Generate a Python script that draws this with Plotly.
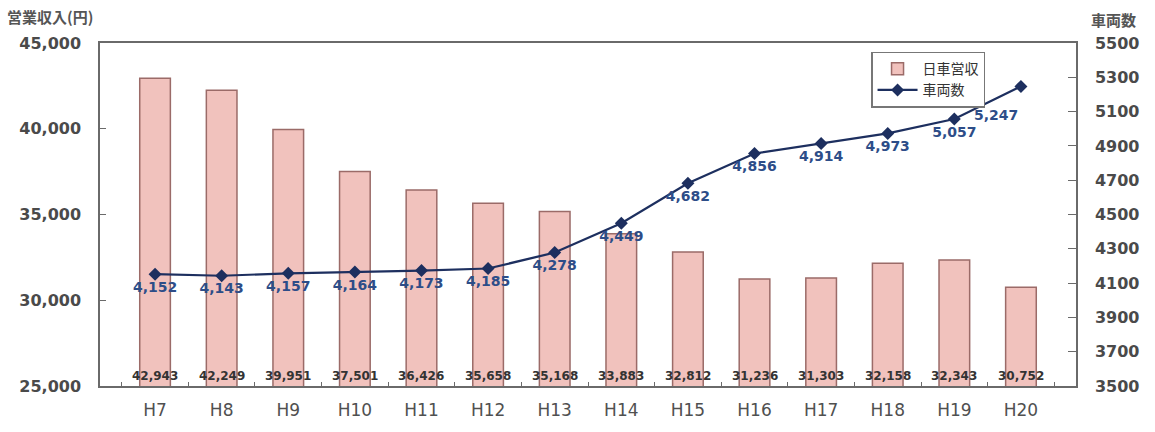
import plotly.graph_objects as go

categories = ["H7", "H8", "H9", "H10", "H11", "H12", "H13", "H14", "H15", "H16", "H17", "H18", "H19", "H20"]
revenue = [42943, 42249, 39951, 37501, 36426, 35658, 35168, 33883, 32812, 31236, 31303, 32158, 32343, 30752]
vehicles = [4152, 4143, 4157, 4164, 4173, 4185, 4278, 4449, 4682, 4856, 4914, 4973, 5057, 5247]
left_ticks = [25000, 30000, 35000, 40000, 45000]
right_ticks = [3500, 3700, 3900, 4100, 4300, 4500, 4700, 4900, 5100, 5300, 5500]

NUM_FONT = "DejaVu Sans"
JP_FONT = "Noto Sans CJK JP"
AXIS_COLOR = "#6a6a6a"
LINE_LABEL_COLOR = "#2d4d88"

fig = go.Figure()

fig.add_trace(go.Bar(
    x=categories, y=revenue, name="日車営収",
    marker=dict(color="#f1c2bd", line=dict(color="#9b6b68", width=1.5)),
    width=0.46, yaxis="y",
))

# last point's label is drawn as an annotation (offset down-left)
line_text = [f"{v:,}" for v in vehicles[:-1]] + [""]
fig.add_trace(go.Scatter(
    x=categories, y=vehicles, name="車両数", yaxis="y2",
    mode="lines+markers+text",
    line=dict(color="#1d2f5f", width=2.2),
    marker=dict(symbol="diamond", size=10, color="#1d2f5f"),
    text=line_text,
    textposition="bottom center",
    textfont=dict(family=NUM_FONT, size=14, color=LINE_LABEL_COLOR, weight="bold"),
))

annotations = []
for c, v in zip(categories, revenue):
    annotations.append(dict(
        x=c, y=0.03, xref="x", yref="paper", yanchor="middle", text=f"{v:,}", showarrow=False,
        font=dict(family=NUM_FONT, size=12, color="#333333", weight="bold"),
    ))
annotations.append(dict(
    x=categories[-1], y=vehicles[-1], xref="x", yref="y2", text=f"{vehicles[-1]:,}",
    showarrow=False, xshift=-25, yshift=-29,
    font=dict(family=NUM_FONT, size=14, color=LINE_LABEL_COLOR, weight="bold"),
))
annotations.append(dict(
    x=-0.097, y=1.0, xref="paper", yref="paper", yanchor="bottom", xanchor="left",
    text="営業収入(円)", showarrow=False, yshift=14,
    font=dict(family=JP_FONT, size=15, color="#555555", weight="bold"),
))
annotations.append(dict(
    x=1.013, y=1.0, xref="paper", yref="paper", yanchor="bottom", xanchor="left",
    text="車両数", showarrow=False, yshift=11,
    font=dict(family=JP_FONT, size=15, color="#555555", weight="bold"),
))

fig.update_layout(
    width=1155, height=432,
    margin=dict(l=100, r=79, t=43, b=44),
    paper_bgcolor="white", plot_bgcolor="white",
    showlegend=True,
    legend=dict(
        x=0.79, y=0.975, xanchor="left", yanchor="top",
        bordercolor="#777777", borderwidth=1.5, bgcolor="white",
        font=dict(family=JP_FONT, size=14, color="#333333"),
        tracegroupgap=0, itemwidth=40,
    ),
    annotations=annotations,
    xaxis=dict(
        showline=True, linecolor=AXIS_COLOR, linewidth=1.5, mirror=True,
        ticks="inside", tickson="boundaries", ticklen=4, tickcolor=AXIS_COLOR,
        tickfont=dict(family=NUM_FONT, size=17, color="#505050"),
        ticklabelstandoff=8, showgrid=False,
    ),
    yaxis=dict(
        range=[25000, 45000], tickvals=left_ticks, tickformat=",",
        showline=True, linecolor=AXIS_COLOR, linewidth=1.5, mirror=True,
        ticks="inside", ticklen=6, tickcolor=AXIS_COLOR,
        tickfont=dict(family=NUM_FONT, size=16, color="#4a4a4a", weight="bold"),
        ticklabelstandoff=14, showgrid=False, zeroline=False,
    ),
    yaxis2=dict(
        range=[3500, 5500], tickvals=right_ticks, overlaying="y", side="right",
        showline=True, linecolor=AXIS_COLOR, linewidth=1.5,
        ticks="inside", ticklen=8, tickcolor=AXIS_COLOR,
        tickfont=dict(family=NUM_FONT, size=16, color="#4a4a4a", weight="bold"),
        ticklabelstandoff=14, showgrid=False, zeroline=False,
    ),
)

fig.write_html("out.html")
